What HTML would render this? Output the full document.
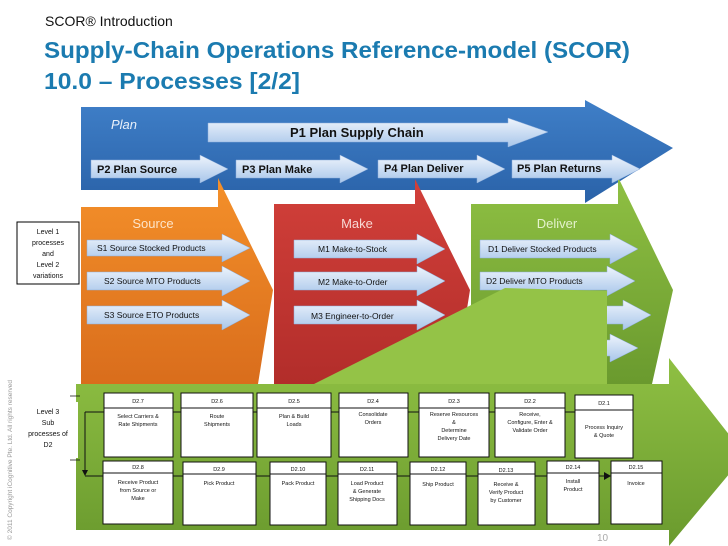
<!DOCTYPE html>
<html><head><meta charset="utf-8"><style>
html,body{margin:0;padding:0;background:#fff;}
svg{display:block;font-family:"Liberation Sans",sans-serif;}
</style></head><body>
<svg width="728" height="546" viewBox="0 0 728 546" xmlns="http://www.w3.org/2000/svg">
<defs>
<linearGradient id="lb" x1="0" y1="0" x2="0" y2="1"><stop offset="0" stop-color="#eef4fc"/><stop offset="1" stop-color="#a8c6ea"/></linearGradient>
<linearGradient id="bl" x1="0" y1="0" x2="0" y2="1"><stop offset="0" stop-color="#3f7fc8"/><stop offset="1" stop-color="#2a62a8"/></linearGradient>
<linearGradient id="or" x1="0" y1="0" x2="0" y2="1"><stop offset="0" stop-color="#f4902a"/><stop offset="1" stop-color="#d96d1c"/></linearGradient>
<linearGradient id="rd" x1="0" y1="0" x2="0" y2="1"><stop offset="0" stop-color="#d2403a"/><stop offset="1" stop-color="#b22d2a"/></linearGradient>
<linearGradient id="gr" x1="0" y1="0" x2="0" y2="1"><stop offset="0" stop-color="#8fc043"/><stop offset="1" stop-color="#6a9a2e"/></linearGradient>
</defs>
<text x="45" y="26" font-size="14" fill="#111">SCOR® Introduction</text>
<text x="44" y="58" font-size="23" font-weight="bold" fill="#1b7bb0" textLength="586" lengthAdjust="spacingAndGlyphs">Supply-Chain Operations Reference-model (SCOR)</text>
<text x="44" y="89" font-size="23" font-weight="bold" fill="#1b7bb0" textLength="256" lengthAdjust="spacingAndGlyphs">10.0 – Processes [2/2]</text>
<text transform="translate(12,540) rotate(-90)" font-size="6.5" fill="#999">© 2011 Copyright iCognitive Pte. Ltd. All rights reserved</text>

<path d="M81,107 L585,107 L585,100 L673,148 L585,203 L585,190 L81,190 Z" fill="url(#bl)"/>
<text x="111" y="129" font-size="13" font-style="italic" fill="#e8f0fa">Plan</text>
<path d="M81,207 L218,207 L218,178 L273,290 L258,384 L81,384 Z" fill="url(#or)"/>
<path d="M274,204 L415,204 L415,179 L470,290 L455,384 L274,384 Z" fill="url(#rd)"/>
<path d="M471,204 L618,204 L618,177 L673,290 L652,384 L471,384 Z" fill="url(#gr)"/>
<text x="153" y="228" font-size="13" text-anchor="middle" fill="#fde4c8">Source</text>
<text x="357" y="228" font-size="13" text-anchor="middle" fill="#f8d8d4">Make</text>
<text x="557" y="228" font-size="13" text-anchor="middle" fill="#e4f2cc">Deliver</text>

<g fill="url(#lb)" stroke="#8eaedb" stroke-width="0.5">
<path d="M208,123 L508,123 L508,118 L548,132 L508,147 L508,142 L208,142 Z"/>
<path d="M91,160 L200,160 L200,155 L228,169 L200,183 L200,178 L91,178 Z"/>
<path d="M236,160 L340,160 L340,155 L368,169 L340,183 L340,178 L236,178 Z"/>
<path d="M378,160 L477,160 L477,155 L505,169 L477,183 L477,178 L378,178 Z"/>
<path d="M512,160 L612,160 L612,155 L640,169 L612,183 L612,178 L512,178 Z"/>
<path d="M87,240 L222,240 L222,234 L250,248 L222,262 L222,256 L87,256 Z"/>
<path d="M87,272 L222,272 L222,266 L250,281 L222,296 L222,290 L87,290 Z"/>
<path d="M87,306 L222,306 L222,300 L250,315 L222,330 L222,324 L87,324 Z"/>
<path d="M294,240 L417,240 L417,234 L445,249 L417,264 L417,258 L294,258 Z"/>
<path d="M294,272 L417,272 L417,266 L445,281 L417,296 L417,290 L294,290 Z"/>
<path d="M294,306 L417,306 L417,300 L445,315 L417,330 L417,324 L294,324 Z"/>
<path d="M480,240 L610,240 L610,234 L638,249 L610,264 L610,258 L480,258 Z"/>
<path d="M480,272 L607,272 L607,266 L635,281 L607,296 L607,290 L480,290 Z"/>
<path d="M600,306 L623,306 L623,300 L651,315 L623,330 L623,324 L600,324 Z"/>
<path d="M600,340 L610,340 L610,334 L638,348 L610,362 L610,356 L600,356 Z"/>
</g>
<g font-size="11" font-weight="bold" fill="#111">
<text x="290" y="137" font-size="13">P1  Plan Supply Chain</text>
<text x="97" y="173">P2  Plan Source</text>
<text x="242" y="173">P3  Plan Make</text>
<text x="384" y="172">P4  Plan Deliver</text>
<text x="517" y="172">P5  Plan Returns</text>
</g>
<g font-size="8.5" fill="#111">
<text x="97" y="251">S1  Source Stocked Products</text>
<text x="104" y="284">S2  Source MTO Products</text>
<text x="104" y="318">S3  Source ETO Products</text>
<text x="318" y="252">M1  Make-to-Stock</text>
<text x="318" y="285">M2  Make-to-Order</text>
<text x="311" y="319">M3  Engineer-to-Order</text>
<text x="488" y="252">D1  Deliver Stocked Products</text>
<text x="486" y="284">D2  Deliver MTO Products</text>
</g>
<rect x="17" y="222" width="62" height="62" fill="#fff" stroke="#000" stroke-width="1"/>
<g font-size="7" text-anchor="middle" fill="#111">
<text x="48" y="234">Level 1</text><text x="48" y="245">processes</text><text x="48" y="256">and</text><text x="48" y="267">Level 2</text><text x="48" y="278">variations</text>
</g>

<path d="M314,384 L505,288 L607,291 L607,384 Z" fill="#94c347"/>
<path d="M76,384 L669,384 L669,358 L745,455 L669,546 L669,530 L76,530 Z" fill="url(#gr)"/>
<rect x="18" y="402" width="60" height="56" fill="#fff"/>
<g font-size="7" text-anchor="middle" fill="#111">
<text x="48" y="414">Level 3</text><text x="48" y="425">Sub</text><text x="48" y="436">processes of</text><text x="48" y="447">D2</text>
</g>
<line x1="70" y1="396" x2="80" y2="396" stroke="#000" stroke-width="0.7"/>
<line x1="70" y1="460" x2="80" y2="460" stroke="#000" stroke-width="0.7"/>
<g stroke="#111" stroke-width="1" fill="none">
<line x1="85" y1="412" x2="633" y2="412"/>
<line x1="85" y1="412" x2="85" y2="472"/>
<line x1="85" y1="476" x2="606" y2="476"/>
</g>
<path d="M82,470 L88,470 L85,476 Z" fill="#111"/>
<path d="M604,472 L611,476 L604,480 Z" fill="#111"/>
<g fill="#fff" stroke="#111" stroke-width="1">
<rect x="104" y="393" width="69" height="64"/><rect x="181" y="393" width="72" height="64"/>
<rect x="257" y="393" width="74" height="64"/><rect x="339" y="393" width="69" height="64"/>
<rect x="419" y="393" width="70" height="64"/><rect x="495" y="393" width="70" height="64"/>
<rect x="575" y="395" width="58" height="63"/>
<rect x="103" y="461" width="70" height="63"/><rect x="183" y="462" width="73" height="63"/>
<rect x="270" y="462" width="56" height="63"/><rect x="338" y="462" width="59" height="63"/>
<rect x="410" y="462" width="56" height="63"/><rect x="478" y="462" width="57" height="63"/>
<rect x="547" y="461" width="52" height="63"/><rect x="611" y="461" width="51" height="63"/>
</g>
<g stroke="#111" stroke-width="1">
<line x1="104" y1="408" x2="173" y2="408"/><line x1="181" y1="408" x2="253" y2="408"/>
<line x1="257" y1="408" x2="331" y2="408"/><line x1="339" y1="408" x2="408" y2="408"/>
<line x1="419" y1="408" x2="489" y2="408"/><line x1="495" y1="408" x2="565" y2="408"/>
<line x1="575" y1="410" x2="633" y2="410"/>
<line x1="103" y1="473" x2="173" y2="473"/><line x1="183" y1="474" x2="256" y2="474"/>
<line x1="270" y1="474" x2="326" y2="474"/><line x1="338" y1="474" x2="397" y2="474"/>
<line x1="410" y1="474" x2="466" y2="474"/><line x1="478" y1="474" x2="535" y2="474"/>
<line x1="547" y1="473" x2="599" y2="473"/><line x1="611" y1="473" x2="662" y2="473"/>
</g>
<g font-size="5.5" text-anchor="middle" fill="#111">
<text x="138" y="403">D2.7</text><text x="138" y="418">Select Carriers &amp;</text><text x="138" y="426">Rate Shipments</text>
<text x="217" y="403">D2.6</text><text x="217" y="418">Route</text><text x="217" y="426">Shipments</text>
<text x="294" y="403">D2.5</text><text x="294" y="418">Plan &amp; Build</text><text x="294" y="426">Loads</text>
<text x="373" y="403">D2.4</text><text x="373" y="416">Consolidate</text><text x="373" y="424">Orders</text>
<text x="454" y="403">D2.3</text><text x="454" y="416">Reserve Resources</text><text x="454" y="424">&amp;</text><text x="454" y="432">Determine</text><text x="454" y="440">Delivery Date</text>
<text x="530" y="403">D2.2</text><text x="530" y="416">Receive,</text><text x="530" y="424">Configure, Enter &amp;</text><text x="530" y="432">Validate Order</text>
<text x="604" y="405">D2.1</text><text x="604" y="429">Process Inquiry</text><text x="604" y="437">&amp; Quote</text>
<text x="138" y="469">D2.8</text><text x="138" y="484">Receive Product</text><text x="138" y="492">from Source or</text><text x="138" y="500">Make</text>
<text x="219" y="471">D2.9</text><text x="219" y="485">Pick Product</text>
<text x="298" y="471">D2.10</text><text x="298" y="485">Pack Product</text>
<text x="367" y="471">D2.11</text><text x="367" y="485">Load Product</text><text x="367" y="493">&amp; Generate</text><text x="367" y="501">Shipping Docs</text>
<text x="438" y="471">D2.12</text><text x="438" y="486">Ship Product</text>
<text x="506" y="472">D2.13</text><text x="506" y="486">Receive &amp;</text><text x="506" y="494">Verify Product</text><text x="506" y="502">by Customer</text>
<text x="573" y="469">D2.14</text><text x="573" y="483">Install</text><text x="573" y="491">Product</text>
<text x="636" y="469">D2.15</text><text x="636" y="485">Invoice</text>
</g>
<text x="597" y="541" font-size="10" fill="#aaa">10</text>
</svg>
</body></html>
